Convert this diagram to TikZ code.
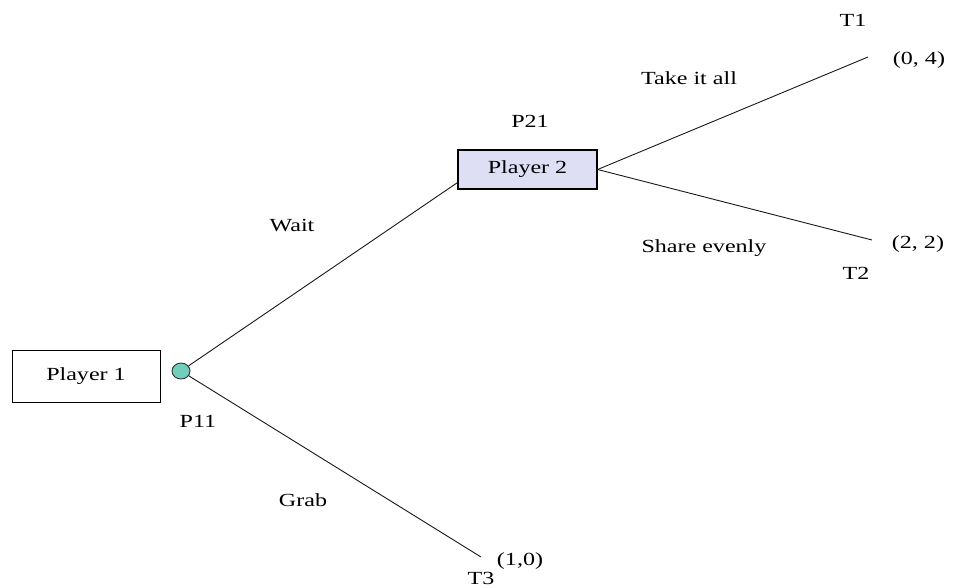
\documentclass[tikz,border=0pt]{standalone}
\usepackage{fontspec}
\setmainfont[FakeStretch=1.3]{Liberation Serif}
\usetikzlibrary{shapes.geometric}
\begin{document}
\begin{tikzpicture}[x=1pt,y=-1pt,
  lbl/.style={inner sep=0pt,font=\fontsize{18.5}{22}\selectfont},
  playerbox/.style={draw,line width=1pt,inner sep=0pt,font=\fontsize{18.5}{22}\selectfont},
  branch/.style={draw=black!90,line width=0.9pt}]
\definecolor{decteal}{RGB}{112,206,186}
\definecolor{lavender}{RGB}{222,222,244}
\useasboundingbox (0,0) rectangle (961,587);
\fill[white] (0,0) rectangle (961,587);

% decision nodes
\node[playerbox,minimum width=148pt,minimum height=52pt] (p1) at (86,376) {Player 1};
\node[draw=black!80,fill=decteal,ellipse,line width=0.9pt,inner sep=0pt,
      minimum width=18pt,minimum height=16pt] (p11) at (181,371) {};
\node[playerbox,fill=lavender,line width=1.3pt,minimum width=139pt,minimum height=39pt] (p2) at (527.5,169.5) {Player 2};

% terminal ends
\coordinate (e1) at (868,57);
\coordinate (e2) at (872,240);
\coordinate (e3) at (481,557);

% branches
\draw[branch] (p11) -- ([yshift=7pt]p2.south west);
\draw[branch] (p11) -- (e3);
\draw[branch] (p2.east) -- (e1);
\draw[branch] (p2.east) -- (e2);

% labels
\node[lbl] (l11) at (198,421) {P11};
\node[lbl] (lw) at (292,226) {Wait};
\node[lbl] (lg) at (303,500) {Grab};
\node[lbl] (l21) at (530,121) {P21};
\node[lbl] (lt) at (689,78) {Take it all};
\node[lbl] (ls) at (704,248) {Share evenly};
\node[lbl] (t1) at (853,20) {T1};
\node[lbl] (v1) at (919,60) {(0, 4)};
\node[lbl] (t2) at (856,273) {T2};
\node[lbl] (v2) at (918,244) {(2, 2)};
\node[lbl] (v3) at (520,561) {(1,0)};
\node[lbl] (t3) at (481,578) {T3};
\end{tikzpicture}
\end{document}
